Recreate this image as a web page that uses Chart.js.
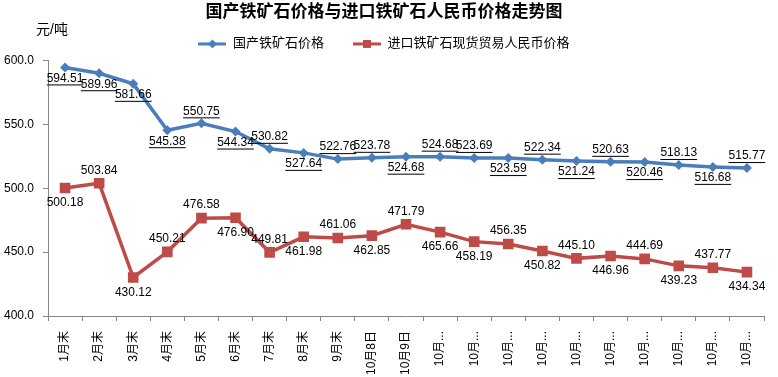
<!DOCTYPE html>
<html>
<head>
<meta charset="utf-8">
<script src="https://cdn.jsdelivr.net/npm/chart.js@4/dist/chart.umd.min.js"></script>
<style>
html, body { margin: 0; padding: 0; background: #fff; }
#wrap { width: 778px; height: 377px; position: relative; }
</style>
</head>
<body>
<div id="wrap"><canvas id="myChart"></canvas></div>
<script>
// data
var categories = ['1月末', '2月末', '3月末', '4月末', '5月末', '6月末', '7月末', '8月末', '9月末',
    '10月8日', '10月9日', '10月...', '10月...', '10月...', '10月...', '10月...', '10月...',
    '10月...', '10月...', '10月...', '10月...'];
var domestic_price = [594.51, 589.96, 581.66, 545.38, 550.75, 544.34, 530.82, 527.64, 522.76, 523.78,
    524.68, 524.68, 523.69, 523.59, 522.34, 521.24, 520.63, 520.46, 518.13, 516.68, 515.77];
var import_price = [500.18, 503.84, 430.12, 450.21, 476.58, 476.90, 449.81, 461.98, 461.06, 462.85,
    471.79, 465.66, 458.19, 456.35, 450.82, 445.10, 446.96, 444.69, 439.23, 437.77, 434.34];
var y_ticks = [400, 450, 500, 550, 600];

// where each value label sits relative to its point
var domestic_label_side = ['b', 'b', 'b', 'b', 'a', 'b', 'a', 'b', 'a', 'a', 'b', 'a', 'a', 'b', 'a', 'b', 'a', 'b', 'a', 'b', 'a'];
var import_label_side = ['b', 'a', 'b', 'a', 'a', 'b', 'a', 'b', 'a', 'b', 'a', 'b', 'b', 'a', 'b', 'a', 'b', 'a', 'b', 'a', 'b'];

var font_family = "'Liberation Sans', 'Noto Sans CJK SC', sans-serif";
var blue = '#4A7EBB';
var red = '#BE4B48';

function legend_icon(color, shape) {
    var c = document.createElement('canvas');
    c.width = 28;
    c.height = 12;
    var g = c.getContext('2d');
    g.strokeStyle = color;
    g.fillStyle = color;
    g.lineWidth = 3;
    g.beginPath();
    g.moveTo(0, 6);
    g.lineTo(28, 6);
    g.stroke();
    g.beginPath();
    if (shape === 'diamond') {
        g.moveTo(14, 1.5);
        g.lineTo(18.5, 6);
        g.lineTo(14, 10.5);
        g.lineTo(9.5, 6);
        g.closePath();
    } else {
        g.rect(10, 2, 8, 8);
    }
    g.fill();
    return c;
}

var label_settings = [
    {side: domestic_label_side, up: -12, down: 11, underline: true},
    {side: import_label_side, up: -13, down: 15, underline: false}
];

const point_labels = {
    id: 'point_labels',
    afterDatasetsDraw(chart) {
        const ctx = chart.ctx;
        ctx.save();
        ctx.font = '12px ' + font_family;
        ctx.textAlign = 'center';
        ctx.textBaseline = 'middle';
        ctx.fillStyle = '#000';
        chart.data.datasets.forEach(function(ds, i) {
            const set = label_settings[i];
            chart.getDatasetMeta(i).data.forEach(function(pt, j) {
                const text = ds.data[j].toFixed(2);
                const y = pt.y + (set.side[j] === 'a' ? set.up : set.down);
                ctx.fillText(text, pt.x, y);
                if (set.underline) {
                    const w = ctx.measureText(text).width;
                    ctx.fillRect(pt.x - w / 2, y + 6, w, 1);
                }
            });
        });
        // unit above the value axis
        ctx.textAlign = 'left';
        ctx.font = '14px ' + font_family;
        ctx.fillText('元/吨', 36, 30);
        ctx.restore();
    }
};

const ctx = document.getElementById('myChart');
new Chart(ctx, {
    type: 'line',
    data: {
        labels: categories,
        datasets: [{
            label: '国产铁矿石价格',
            data: domestic_price,
            borderColor: blue,
            backgroundColor: blue,
            borderWidth: 3.5,
            pointStyle: 'rectRot',
            pointRadius: 5,
            pointBorderWidth: 0,
            tension: 0
        }, {
            label: '进口铁矿石现货贸易人民币价格',
            data: import_price,
            borderColor: red,
            backgroundColor: red,
            borderWidth: 3.5,
            pointStyle: 'rect',
            pointRadius: 7.5,
            pointBorderWidth: 0,
            tension: 0
        }]
    },
    options: {
        responsive: true,
        maintainAspectRatio: false,
        animation: false,
        layout: {
            padding: {left: 4, right: 14, top: 0, bottom: 0}
        },
        plugins: {
            title: {
                display: true,
                text: '国产铁矿石价格与进口铁矿石人民币价格走势图',
                color: '#000',
                font: {family: font_family, size: 17, weight: 'bold'},
                padding: {top: 2, bottom: -14}
            },
            legend: {
                position: 'top',
                labels: {
                    color: '#000',
                    font: {family: font_family, size: 13},
                    usePointStyle: true,
                    pointStyleWidth: 28,
                    padding: 29,
                    generateLabels: function(chart) {
                        return chart.data.datasets.map(function(ds, i) {
                            return {
                                text: ds.label,
                                datasetIndex: i,
                                fontColor: '#000',
                                lineWidth: 0,
                                pointStyle: legend_icon(ds.borderColor, i === 0 ? 'diamond' : 'square')
                            };
                        });
                    }
                }
            },
            tooltip: {enabled: false}
        },
        scales: {
            x: {
                offset: true,
                grid: {
                    offset: true,
                    drawOnChartArea: false,
                    tickLength: 5,
                    color: '#868686'
                },
                border: {color: '#868686'},
                ticks: {
                    autoSkip: false,
                    minRotation: 90,
                    maxRotation: 90,
                    padding: 10,
                    color: '#000',
                    font: {family: font_family, size: 12}
                },
                afterFit: function(scale) {
                    scale.height = 61;
                }
            },
            y: {
                min: 400,
                max: 600,
                grid: {
                    drawOnChartArea: false,
                    tickLength: 5,
                    color: '#868686'
                },
                border: {color: '#868686'},
                ticks: {
                    padding: 9,
                    color: '#000',
                    font: {family: font_family, size: 12},
                    callback: function(value) {
                        return value.toFixed(1);
                    }
                },
                afterBuildTicks: function(scale) {
                    scale.ticks = y_ticks.map(function(v) { return {value: v}; });
                },
                afterFit: function(scale) {
                    scale.width = 44;
                }
            }
        }
    },
    plugins: [point_labels]
});
</script>
</body>
</html>
